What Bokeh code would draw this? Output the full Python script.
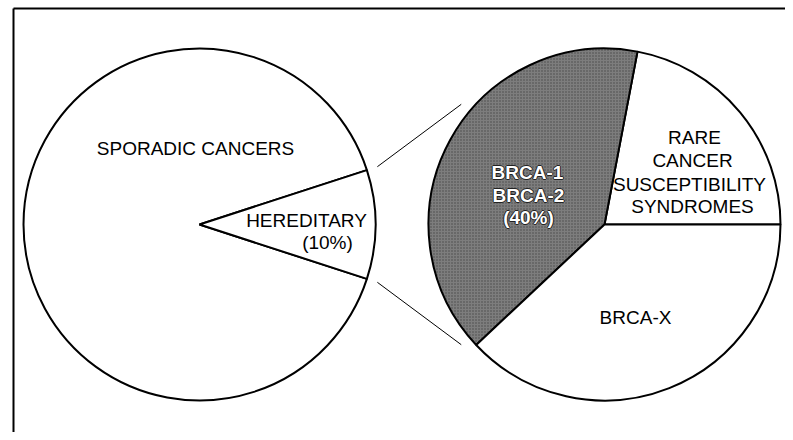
import math
from bokeh.plotting import figure
from bokeh.models import Range1d, ColumnDataSource
from bokeh.core.properties import value
from bokeh.embed import file_html
from bokeh.resources import INLINE

# ---- data ----
left_labels = ["SPORADIC CANCERS", "HEREDITARY"]
left_values = [90, 10]          # percent
right_labels = ["RARE CANCER SUSCEPTIBILITY SYNDROMES", "BRCA-1 BRCA-2", "BRCA-X"]
right_values = [22, 40, 38]     # percent of hereditary

W, H = 785, 432
p = figure(width=W, height=H, output_backend="svg", toolbar_location=None,
           x_range=Range1d(0, W), y_range=Range1d(0, H), min_border=0)
p.axis.visible = False
p.grid.visible = False
p.outline_line_color = None
p.background_fill_color = "white"
p.border_fill_color = "white"

FONT = value("Liberation Sans")

# frame (top and left edges)
p.line([13, W], [424, 424], line_color="black", line_width=2)
p.line([13, 13], [0, 424], line_color="black", line_width=2)

R = 176
LC = (199, 208)
RC = (604, 208)

# ---- left pie ----
her = left_values[1] / sum(left_values) * 2 * math.pi
l_start = [her / 2, -her / 2]
l_end = [2 * math.pi - her / 2, her / 2]
p.wedge(x=[LC[0]] * 2, y=[LC[1]] * 2, radius=R, start_angle=l_start, end_angle=l_end,
        fill_color="white", line_color="black", line_width=2)

# ---- right pie ----
tot = sum(right_values)
starts, ends = [], []
acc = 0.0
for v in right_values:
    starts.append(acc / tot * 2 * math.pi)
    acc += v
    ends.append(acc / tot * 2 * math.pi)
fills = ["white", "#7d7d7d", "white"]
hatch = [" ", "dot", " "]
p.wedge(x=[RC[0]] * 3, y=[RC[1]] * 3, radius=R, start_angle=starts, end_angle=ends,
        fill_color=fills, line_color="black", line_width=2,
        hatch_pattern=hatch, hatch_color="#3a3a3a", hatch_scale=3, hatch_alpha=0.8)

# ---- connector lines ----
rl = 187
a_left = her / 2
a_right = math.radians(140)
xs = [[LC[0] + rl * math.cos(a_left), RC[0] + rl * math.cos(a_right)],
      [LC[0] + rl * math.cos(-a_left), RC[0] + rl * math.cos(-a_right)]]
ys = [[LC[1] + rl * math.sin(a_left), RC[1] + rl * math.sin(a_right)],
      [LC[1] + rl * math.sin(-a_left), RC[1] + rl * math.sin(-a_right)]]
p.multi_line(xs, ys, line_color="black", line_width=1)

# ---- labels ----
black_txt = dict(
    x=[195, 306, 327, 694, 692, 689, 692, 635],
    y=[284.5, 212, 190, 295, 272, 248, 226, 115],
    t=[left_labels[0], left_labels[1], "(%d%%)" % left_values[1],
       "RARE", "CANCER", "SUSCEPTIBILITY", "SYNDROMES", right_labels[2]],
)
p.text(x="x", y="y", text="t", source=ColumnDataSource(black_txt),
       text_font=FONT, text_font_size="19px", text_color="black",
       text_align="center", text_baseline="middle")

white_txt = dict(
    x=[527, 528, 528],
    y=[260, 237, 215],
    t=["BRCA-1", "BRCA-2", "(%d%%)" % right_values[1]],
)
for dx, dy in [(-1, 0), (1, 0), (0, -1), (0, 1)]:
    p.text(x=[v + dx for v in white_txt["x"]], y=[v + dy for v in white_txt["y"]],
           text=white_txt["t"], text_font=FONT, text_font_size="19px",
           text_font_style="bold", text_color="#222222",
           text_align="center", text_baseline="middle")
p.text(x="x", y="y", text="t", source=ColumnDataSource(white_txt),
       text_font=FONT, text_font_size="19px", text_font_style="bold",
       text_color="white", text_align="center", text_baseline="middle")

open("out.html", "w").write(file_html(p, INLINE))
